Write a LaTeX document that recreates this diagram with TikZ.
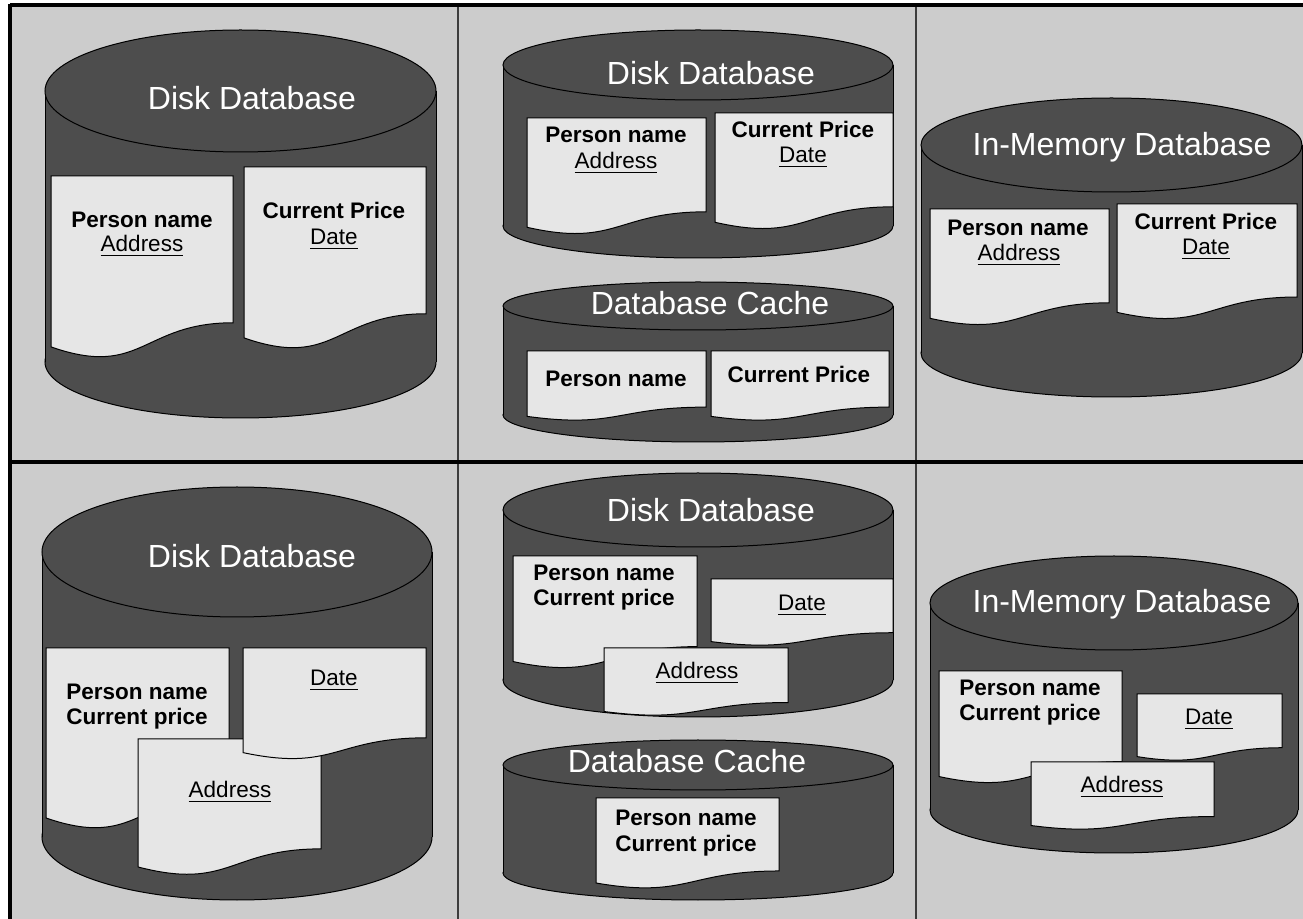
\documentclass[tikz,border=0pt]{standalone}
\usepackage{fontspec}
\setmainfont{Liberation Sans}
\definecolor{panel}{RGB}{204,204,204}
\definecolor{cyl}{RGB}{77,77,77}
\definecolor{docfill}{RGB}{230,230,230}
\definecolor{sep}{RGB}{60,60,60}
\tikzset{
  cylstyle/.style={fill=cyl, draw=black, line width=0.5pt},
  docstyle/.style={fill=docfill, draw=black, line width=0.5pt},
  title/.style={text=white, font=\fontsize{16}{19}\selectfont, anchor=base, inner sep=0pt},
  lbl/.style={font=\fontsize{11.25}{13}\selectfont\bfseries, anchor=base, inner sep=0pt},
  ulbl/.style={font=\fontsize{11.25}{13}\selectfont, anchor=base, inner sep=0pt},
  frameline/.style={line width=2pt, draw=black},
  sepline/.style={line width=0.6pt, draw=sep},
}
% L R ctop rytop cbot rybot
\newcommand\dbcyl[6]{%
  \path[cylstyle] ({(#1+#2)/2},#5) ellipse [x radius={(#2-#1)/2}, y radius=#6];
  \fill[cyl] (#1,#3) rectangle (#2,#5);
  \draw[line width=0.5pt] (#1,#3) -- (#1,#5) (#2,#3) -- (#2,#5);
  \path[cylstyle] ({(#1+#2)/2},#3) ellipse [x radius={(#2-#1)/2}, y radius=#4];
}
% L T W H
\newcommand\docshape[4]{%
  \path[docstyle] (#1,#2) -- ++(#3,0) -- ++(0,{0.802*#4})
    .. controls ({#1+0.5*#3},{#2+0.802*#4}) and ({#1+0.5*#3},{#2+1.1075*#4}) ..
    (#1,{#2+0.934*#4}) -- cycle;
}
\begin{document}
\begin{tikzpicture}[x=0.5pt,y=-0.5pt]
\useasboundingbox (0,0) rectangle (1303,919);
\fill[white] (0,0) rectangle (1303,919);
\fill[panel] (10,5) rectangle (1303,919);
\draw[sepline] (458,5) -- (458,919) (916,5) -- (916,919);
\draw[frameline] (10,5) -- (1303,5);
\draw[frameline] (10,462) -- (1303,462);
\draw[frameline] (10,4) -- (10,919);

% ---------- top row ----------
\dbcyl{45}{436}{91}{61}{362}{56}
\node[title] (t1) at (252,110) {Disk Database};
\docshape{51}{176}{182}{183}
\node[lbl] (d1a) at (142,228) {Person name};
\node[ulbl] (d1b) at (142,252) {\underline{Address}};
\docshape{244}{167}{182}{183}
\node[lbl] (d2a) at (334,219) {Current Price};
\node[ulbl] (d2b) at (334,245) {\underline{Date}};

\dbcyl{503}{893}{65}{35}{226}{32}
\node[title] (t2) at (711,85) {Disk Database};
\docshape{527}{118}{179}{117}
\node[lbl] (dAa) at (616,143) {Person name};
\node[ulbl] (dAb) at (616,169) {\underline{Address}};
\docshape{715}{113}{178}{117}
\node[lbl] (dBa) at (803,138) {Current Price};
\node[ulbl] (dBb) at (803,163) {\underline{Date}};

\dbcyl{503}{893}{306}{24}{415}{27}
\node[title] (t3) at (710,315) {Database Cache};
\docshape{527}{351}{179}{70}
\node[lbl] (dC) at (616,387) {Person name};
\docshape{711}{351}{178}{70}
\node[lbl] (dD) at (799,383) {Current Price};

\dbcyl{921}{1302}{145}{47}{353}{44}
\node[title] (t4) at (1122,156) {In-Memory Database};
\docshape{930}{209}{179}{117}
\node[lbl] (dEa) at (1018,236) {Person name};
\node[ulbl] (dEb) at (1019,261) {\underline{Address}};
\docshape{1117}{204}{180}{116}
\node[lbl] (dFa) at (1206,230) {Current Price};
\node[ulbl] (dFb) at (1206,255) {\underline{Date}};

% ---------- bottom row ----------
\dbcyl{42}{432}{552}{65}{837}{63}
\node[title] (t5) at (252,568) {Disk Database};
\docshape{46}{648}{183}{182}
\node[lbl] (dGa) at (137,700) {Person name};
\node[lbl] (dGb) at (137,725) {Current price};
\docshape{138}{739}{183}{137}
\node[ulbl] (dI) at (230,798) {\underline{Address}};
\docshape{243}{648}{183}{112}
\node[ulbl] (dH) at (334,686) {\underline{Date}};

\dbcyl{503}{893}{510}{37}{680}{37}
\node[title] (t6) at (711,522) {Disk Database};
\docshape{513}{556}{184}{113}
\node[lbl] (dJa) at (604,581) {Person name};
\node[lbl] (dJb) at (604,606) {Current price};
\docshape{711}{579}{182}{67}
\node[ulbl] (dK) at (802,611) {\underline{Date}};
\docshape{604}{648}{184}{68}
\node[ulbl] (dL) at (697,679) {\underline{Address}};

\dbcyl{503}{893}{765}{25}{873}{27}
\node[title] (t7) at (687,773) {Database Cache};
\docshape{596}{798}{183}{91}
\node[lbl] (dMa) at (686,826) {Person name};
\node[lbl] (dMb) at (686,851) {Current price};

\dbcyl{930}{1298}{603}{47}{810}{43}
\node[title] (t8) at (1122,613) {In-Memory Database};
\docshape{939}{671}{183}{113}
\node[lbl] (dNa) at (1030,696) {Person name};
\node[lbl] (dNb) at (1030,721) {Current price};
\docshape{1137}{694}{145}{67}
\node[ulbl] (dO) at (1209,725) {\underline{Date}};
\docshape{1031}{762}{183}{68}
\node[ulbl] (dP) at (1122,793) {\underline{Address}};
\end{tikzpicture}
\end{document}
